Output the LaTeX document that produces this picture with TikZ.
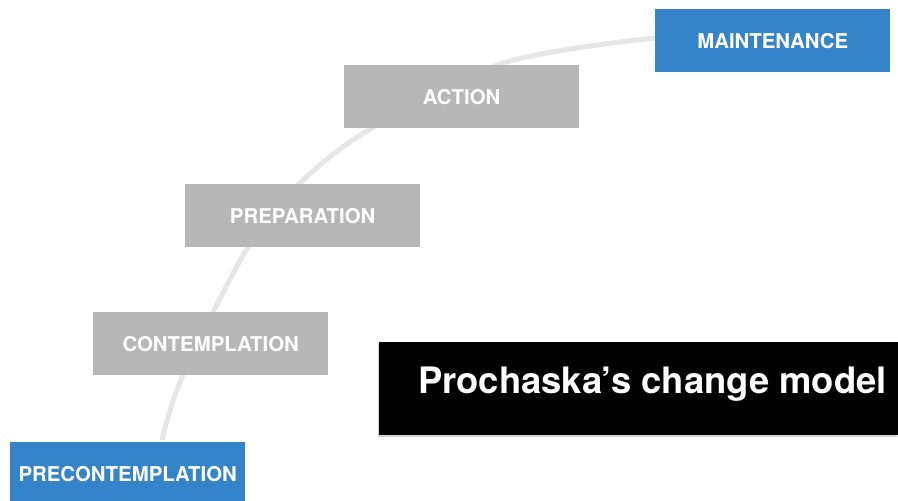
\documentclass[tikz,border=0pt]{standalone}
\usepackage{fontspec}
\setmainfont{TeX Gyre Heros}
\usetikzlibrary{positioning,
                shadows}
\definecolor{stagegray}{HTML}{B7B7B7}
\definecolor{stageblue}{HTML}{3584C9}
\definecolor{pathgray}{HTML}{E6E6E6}
\tikzset{stage/.style =
   {rectangle,
    fill=stagegray,
    text=white,
    font=\fontsize{20.4}{24}\selectfont\bfseries,
    minimum width=235pt,
    minimum height=63pt,
    inner sep=0pt,
    anchor=north west}}
\tikzset{stage-end/.style =
   {stage,
    fill=stageblue}}
\tikzset{titlebox/.style =
   {rectangle,
    fill=black,
    drop shadow={shadow xshift=-1pt, shadow yshift=-2pt, opacity=0.35}}}
\tikzset{path-line/.style = {draw=pathgray, line width=5pt}}

\begin{document}
\begin{tikzpicture}[x=1pt, y=-1pt]

        \useasboundingbox (0,0) rectangle (898,501);

        % the road upwards
        \draw [path-line] plot [smooth, tension=0.55] coordinates
         {(162,440) (183,375) (248,247) (300,183) (372,128) (503,63) (655,38)};

        \node [stage-end] (precontemplation) at (10,442) {PRECONTEMPLATION};

        \node [stage] (contemplation) at (93,312) {CONTEMPLATION};

        \node [stage] (preparation) at (185,184) {PREPARATION};

        \node [stage] (action) at (344,65) {ACTION};

        \node [stage-end] (maintenance) at (655,9) {MAINTENANCE};

        % title
        \path [titlebox] (379,342) rectangle (898,435);
        \node [anchor=base west,
               text=white,
               inner sep=0pt,
               font=\fontsize{36.4}{40}\selectfont\bfseries] (title) at (418,393)
         {Prochaska’s change model};

    \end{tikzpicture}
\end{document}
